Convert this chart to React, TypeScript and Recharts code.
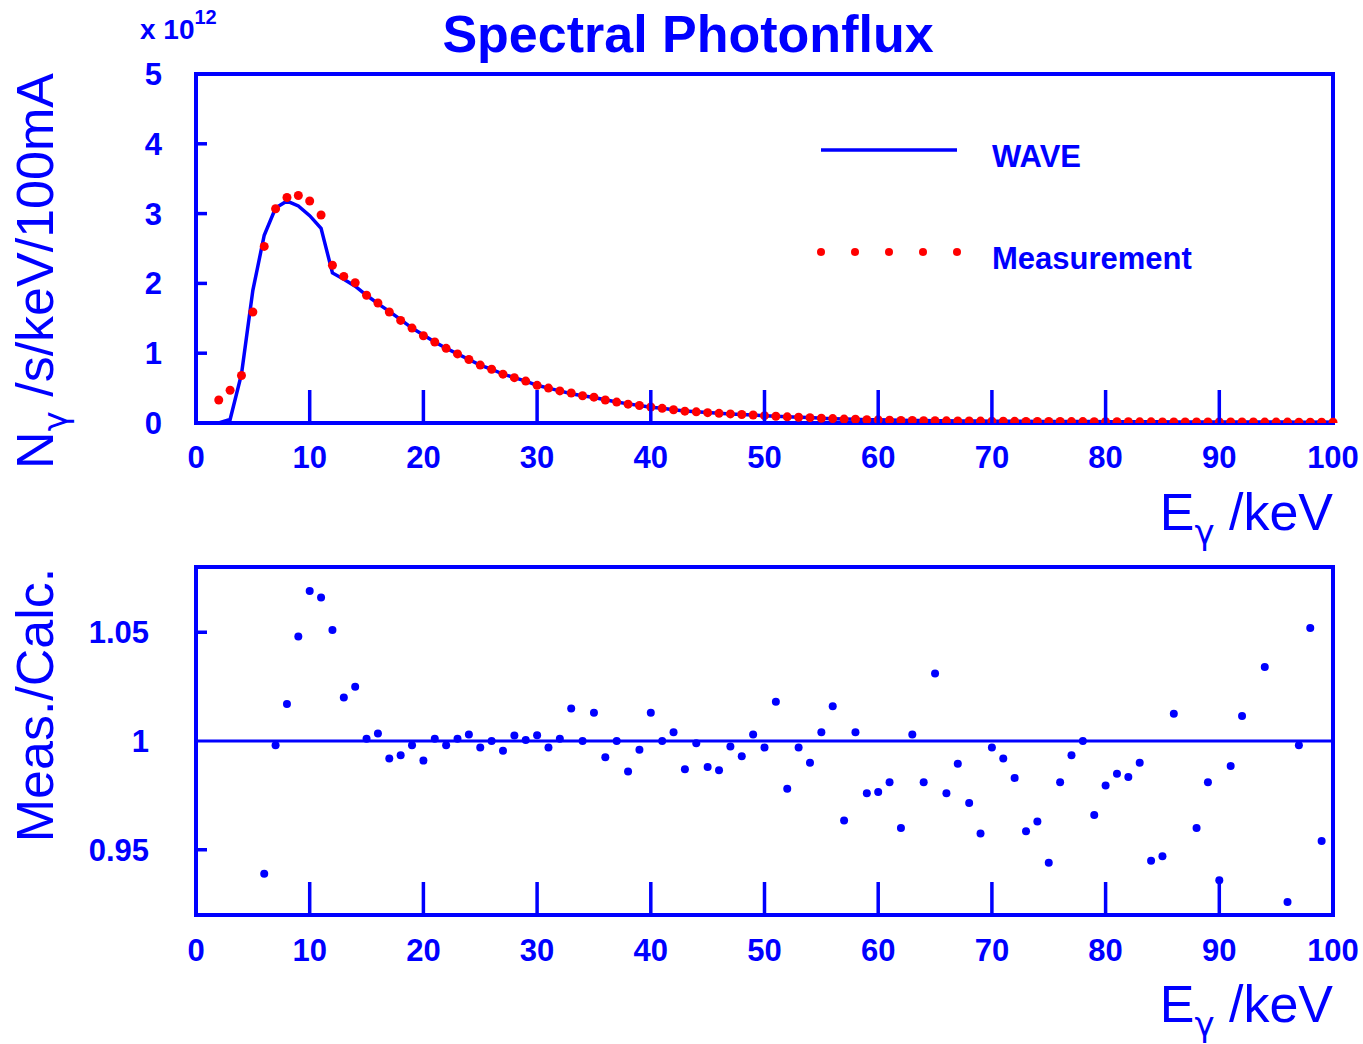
import React from "react";
import {
  ComposedChart,
  Line,
  XAxis,
  YAxis,
  ReferenceArea,
  ReferenceLine,
  ScatterChart,
  Scatter,
  Legend,
} from "recharts";

const BLUE = "#0000ff";
const RED = "#ff0000";
const FONT = '"Liberation Sans", Arial, Helvetica, sans-serif';
const GREEK = '"DejaVu Sans", "Noto Sans", sans-serif';

// photon energy in keV (top panel)
const energies = [
  2, 3, 4, 5, 6, 7, 8, 9, 10, 11, 12, 13, 14, 15, 16, 17, 18, 19, 20, 21,
  22, 23, 24, 25, 26, 27, 28, 29, 30, 31, 32, 33, 34, 35, 36, 37, 38, 39, 40, 41,
  42, 43, 44, 45, 46, 47, 48, 49, 50, 51, 52, 53, 54, 55, 56, 57, 58, 59, 60, 61,
  62, 63, 64, 65, 66, 67, 68, 69, 70, 71, 72, 73, 74, 75, 76, 77, 78, 79, 80, 81,
  82, 83, 84, 85, 86, 87, 88, 89, 90, 91, 92, 93, 94, 95, 96, 97, 98, 99, 100,
];

// measured flux, units of 1e12 /s/keV/100mA
const measured = [
  0.33, 0.47, 0.68, 1.59, 2.53, 3.07, 3.23, 3.26, 3.18, 2.98, 2.26, 2.1, 2.01, 1.83, 1.72, 1.59, 1.47, 1.36, 1.25, 1.16,
  1.07, 0.99, 0.91, 0.83, 0.77, 0.7, 0.65, 0.6, 0.54, 0.5, 0.46, 0.43, 0.39, 0.37, 0.33, 0.3, 0.27, 0.25, 0.23, 0.21,
  0.19, 0.17, 0.16, 0.148, 0.138, 0.13, 0.122, 0.114, 0.105, 0.097, 0.088, 0.083, 0.077, 0.068, 0.063, 0.056, 0.053, 0.047, 0.045, 0.041,
  0.037, 0.036, 0.034, 0.033, 0.031, 0.03, 0.029, 0.027, 0.026, 0.025, 0.024, 0.023, 0.022, 0.021, 0.021, 0.02, 0.02, 0.019, 0.019, 0.018,
  0.018, 0.017, 0.017, 0.016, 0.016, 0.016, 0.015, 0.015, 0.015, 0.014, 0.014, 0.014, 0.013, 0.013, 0.013, 0.012, 0.012, 0.012, 0.011,
];

// WAVE calculation
const wave = [
  0.0, 0.05, 0.7, 1.9, 2.69, 3.08, 3.18, 3.11, 2.97, 2.79, 2.15, 2.06, 1.96, 1.83, 1.71, 1.6, 1.48, 1.36, 1.26, 1.16,
  1.07, 0.99, 0.91, 0.83, 0.77, 0.7, 0.65, 0.6, 0.54, 0.5, 0.46, 0.42, 0.39, 0.365, 0.332, 0.3, 0.274, 0.251, 0.227, 0.21,
  0.189, 0.172, 0.16, 0.15, 0.14, 0.13, 0.123, 0.114, 0.105, 0.095, 0.09, 0.083, 0.078, 0.068, 0.062, 0.058, 0.053, 0.048, 0.046, 0.042,
  0.039, 0.036, 0.035, 0.032, 0.032, 0.03, 0.03, 0.028, 0.026, 0.025, 0.024, 0.024, 0.023, 0.022, 0.021, 0.02, 0.02, 0.02, 0.019, 0.018,
  0.018, 0.017, 0.018, 0.017, 0.016, 0.016, 0.016, 0.015, 0.016, 0.014, 0.014, 0.014, 0.013, 0.013, 0.014, 0.012, 0.011, 0.013, 0.011,
];

// bottom panel: Meas./Calc.
const ratioEnergies = [
  6, 7, 8, 9, 10, 11, 12, 13, 14, 15, 16, 17, 18, 19, 20, 21, 22, 23, 24, 25,
  26, 27, 28, 29, 30, 31, 32, 33, 34, 35, 36, 37, 38, 39, 40, 41, 42, 43, 44, 45,
  46, 47, 48, 49, 50, 51, 52, 53, 54, 55, 56, 57, 58, 59, 60, 61, 62, 63, 64, 65,
  66, 67, 68, 69, 70, 71, 72, 73, 74, 75, 76, 77, 78, 79, 80, 81, 82, 83, 84, 85,
  86, 88, 89, 90, 91, 92, 94, 96, 97, 98, 99,
];
const ratios = [
  0.939, 0.998, 1.017, 1.048, 1.069, 1.066, 1.051, 1.02, 1.025, 1.001, 1.0035, 0.992, 0.9935, 0.998, 0.991, 1.001, 0.998, 1.001, 1.003, 0.997,
  1.0, 0.9955, 1.0025, 1.0005, 1.0027, 0.997, 1.001, 1.015, 1.0, 1.013, 0.9925, 1.0, 0.986, 0.996, 1.013, 1.0, 1.004, 0.987, 0.999, 0.988,
  0.9865, 0.9975, 0.993, 1.003, 0.997, 1.018, 0.978, 0.997, 0.99, 1.004, 1.016, 0.9635, 1.004, 0.976, 0.9765, 0.981, 0.96, 1.003, 0.981, 1.031,
  0.976, 0.9895, 0.9715, 0.9575, 0.997, 0.992, 0.983, 0.9585, 0.963, 0.944, 0.981, 0.9935, 1.0, 0.966, 0.9795, 0.985, 0.9835, 0.99, 0.945, 0.947,
  1.0125, 0.96, 0.981, 0.936, 0.9885, 1.0115, 1.034, 0.926, 0.998, 1.052, 0.954,
];

const xTicks = [0, 10, 20, 30, 40, 50, 60, 70, 80, 90, 100];
const fluxTicks = [0, 1, 2, 3, 4, 5];
const ratioTicks = [0.95, 1, 1.05];
const ratioTickLabels = ["0.95", "1", "1.05"];

const fluxRows = energies.map((e, i) => ({ e, wave: wave[i], meas: measured[i] }));
const ratioRows = ratioEnergies.map((e, i) => ({ e, r: ratios[i] }));

const tickText = {
  fill: BLUE,
  fontFamily: FONT,
  fontWeight: "bold" as const,
  fontSize: 31,
};

// ticks point inwards, labels sit outside the frame
function xTick(labelDy: number) {
  return (props: any) => {
    const { x, y, payload } = props;
    const v = payload.value;
    return (
      <g>
        {v > 0 && v < 100 && (
          <line x1={x} x2={x} y1={y} y2={y - 33} stroke={BLUE} strokeWidth={3.5} />
        )}
        <text x={x} y={y + labelDy} textAnchor="middle" {...tickText}>
          {v}
        </text>
      </g>
    );
  };
}

function yTick(labelDx: number, marked: number[], labels?: string[], values?: number[]) {
  return (props: any) => {
    const { x, y, payload } = props;
    const v = payload.value;
    const label = labels && values ? labels[values.indexOf(v)] : String(v);
    return (
      <g>
        {marked.includes(v) && (
          <line x1={x} x2={x + 11} y1={y} y2={y} stroke={BLUE} strokeWidth={3.5} />
        )}
        <text x={x - labelDx} y={y + 11} textAnchor="end" {...tickText}>
          {label}
        </text>
      </g>
    );
  };
}

function LegendBox() {
  const dots = [21, 55, 89, 123, 157];
  const txt = { fill: BLUE, fontFamily: FONT, fontWeight: "bold" as const, fontSize: 31 };
  return (
    <svg width={420} height={170}>
      <line x1={21} x2={157} y1={30} y2={30} stroke={BLUE} strokeWidth={3.5} />
      <text x={192} y={47} {...txt}>WAVE</text>
      {dots.map((d) => (
        <circle key={d} cx={d} cy={132} r={4} fill={RED} />
      ))}
      <text x={192} y={149} {...txt}>Measurement</text>
    </svg>
  );
}

function Labels() {
  const big = { fill: BLUE, fontFamily: FONT, fontSize: 52 };
  return (
    <svg
      width={1363}
      height={1044}
      style={{ position: "absolute", left: 0, top: 0, pointerEvents: "none" }}
    >
      <text x={688} y={52} textAnchor="middle" fill={BLUE} fontFamily={FONT} fontWeight="bold" fontSize={52}>
        Spectral Photonflux
      </text>
      <text x={140} y={39} fill={BLUE} fontFamily={FONT} fontWeight="bold" fontSize={28}>
        x 10
        <tspan fontSize={20} dy={-15}>12</tspan>
      </text>
      <text transform="translate(53,271) rotate(-90)" textAnchor="middle" {...big}>
        N<tspan fontSize={34} dy={14} fontFamily={GREEK}>γ</tspan>
        <tspan dy={-14}> /s/keV/100mA</tspan>
      </text>
      <text transform="translate(53,705) rotate(-90)" textAnchor="middle" {...big}>
        Meas./Calc.
      </text>
      <text x={1333} y={530} textAnchor="end" {...big}>
        E<tspan fontSize={34} dy={14} fontFamily={GREEK}>γ</tspan>
        <tspan dy={-14}> /keV</tspan>
      </text>
      <text x={1333} y={1022} textAnchor="end" {...big}>
        E<tspan fontSize={34} dy={14} fontFamily={GREEK}>γ</tspan>
        <tspan dy={-14}> /keV</tspan>
      </text>
    </svg>
  );
}

export default function App() {
  return (
    <div style={{ position: "absolute", left: 0, top: 0, width: 1363, height: 1044, background: "#fff" }}>
      <div style={{ position: "absolute", left: 0, top: 0 }}>
        <ComposedChart
          width={1363}
          height={540}
          data={fluxRows}
          margin={{ top: 74, left: 195, right: 30, bottom: 116 }}
        >
          <XAxis
            type="number"
            dataKey="e"
            domain={[0, 100]}
            ticks={xTicks}
            interval={0}
            height={1}
            tickSize={0}
            tickMargin={0}
            axisLine={false}
            tickLine={false}
            tick={xTick(45)}
          />
          <YAxis
            type="number"
            domain={[0, 5]}
            ticks={fluxTicks}
            interval={0}
            width={1}
            tickSize={0}
            tickMargin={0}
            axisLine={false}
            tickLine={false}
            allowDataOverflow
            tick={yTick(34, [1, 2, 3, 4])}
          />
          <ReferenceArea x1={0} x2={100} y1={0} y2={5} fill="none" stroke={BLUE} strokeWidth={4} fillOpacity={0} ifOverflow="visible" />
          <Line
            type="linear"
            dataKey="wave"
            stroke={BLUE}
            strokeWidth={3.5}
            dot={false}
            isAnimationActive={false}
          />
          <Line
            type="linear"
            dataKey="meas"
            stroke="none"
            strokeWidth={0}
            dot={{ r: 4.5, fill: RED, stroke: "none" }}
            isAnimationActive={false}
          />
          <Legend
            verticalAlign="middle"
            layout="horizontal"
            wrapperStyle={{ position: "absolute", left: 800, top: 120, width: 420, height: 170 }}
            content={() => <LegendBox />}
          />
        </ComposedChart>
      </div>
      <div style={{ position: "absolute", left: 0, top: 540 }}>
        <ScatterChart
          width={1363}
          height={504}
          margin={{ top: 27, left: 195, right: 30, bottom: 128 }}
        >
          <XAxis
            type="number"
            dataKey="e"
            domain={[0, 100]}
            ticks={xTicks}
            interval={0}
            height={1}
            tickSize={0}
            tickMargin={0}
            axisLine={false}
            tickLine={false}
            tick={xTick(46)}
          />
          <YAxis
            type="number"
            dataKey="r"
            domain={[0.92, 1.08]}
            ticks={ratioTicks}
            interval={0}
            width={1}
            tickSize={0}
            tickMargin={0}
            axisLine={false}
            tickLine={false}
            allowDataOverflow
            tick={yTick(47, [0.95, 1.05], ratioTickLabels, ratioTicks)}
          />
          <ReferenceArea x1={0} x2={100} y1={0.92} y2={1.08} fill="none" stroke={BLUE} strokeWidth={4} fillOpacity={0} ifOverflow="visible" />
          <ReferenceLine y={1} stroke={BLUE} strokeWidth={3} />
          <Scatter
            data={ratioRows}
            dataKey="r"
            fill={BLUE}
            isAnimationActive={false}
            shape={(p: any) => <circle cx={p.cx} cy={p.cy} r={4} fill={BLUE} />}
          />
        </ScatterChart>
      </div>
      <Labels />
    </div>
  );
}
